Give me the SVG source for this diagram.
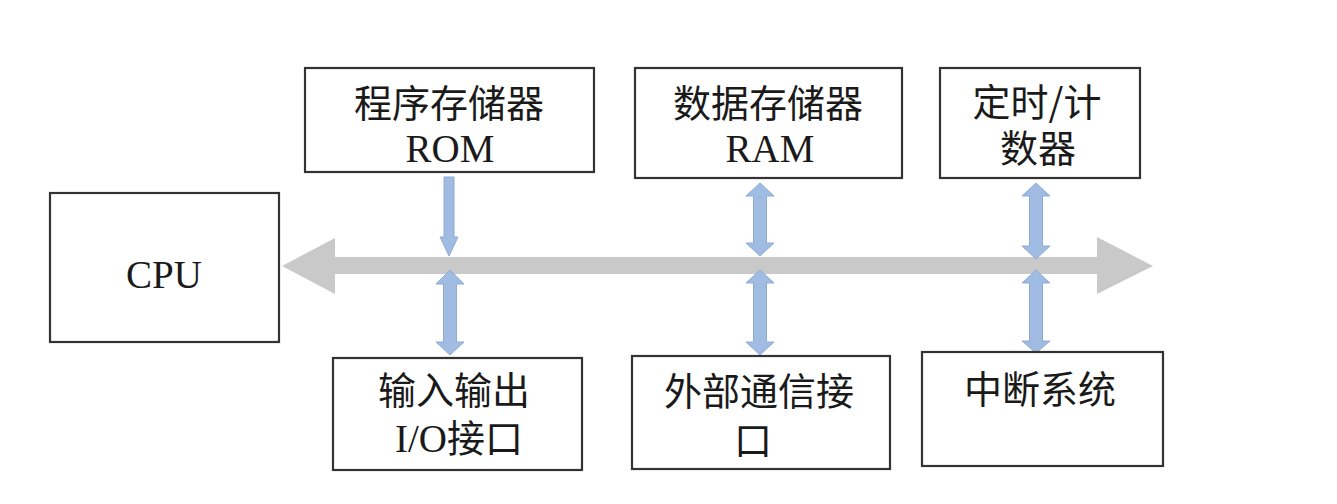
<svg xmlns="http://www.w3.org/2000/svg" width="1337" height="504" viewBox="0 0 1337 504">
<style>
.box{fill:#ffffff;stroke:#333333;stroke-width:2.2}
.zh{font-family:"Noto Sans CJK SC","Noto Sans",sans-serif;font-size:38px;fill:#1a1a1a;text-anchor:middle}
.en{font-family:"Liberation Serif","Noto Sans CJK SC",serif;font-size:39px;fill:#1a1a1a;text-anchor:middle}
.bus{fill:#c9c9c9}
.ba{fill:#a0bce2;stroke:#8fabd6;stroke-width:1}
</style>
<rect width="1337" height="504" fill="#ffffff"/>
<g id="connectors">
<polygon class="bus" points="282,266 335,238 335,257 1097,257 1097,237 1153,266 1097,294 1097,274 335,274 335,294"/>
<polygon class="ba" points="444,177 454,177 454,237 458,237 449,256 440,237 444,237"/>
<polygon class="ba" points="450,270 464,284 456.5,284 456.5,342 464,342 450,355 436,342 443.5,342 443.5,284 436,284"/>
<polygon class="ba" points="760,183 774,196 766.5,196 766.5,243 774,243 760,256 746,243 753.5,243 753.5,196 746,196"/>
<polygon class="ba" points="760,270 774,283 766.5,283 766.5,342 774,342 760,355 746,342 753.5,342 753.5,283 746,283"/>
<polygon class="ba" points="1036,183 1050,196 1042.5,196 1042.5,246 1050,246 1036,259 1022,246 1029.5,246 1029.5,196 1022,196"/>
<polygon class="ba" points="1036,270 1050,283 1042.5,283 1042.5,341 1050,341 1036,353 1022,341 1029.5,341 1029.5,283 1022,283"/>
</g>
<g id="cpu">
<rect class="box" x="50" y="193" width="229" height="149"/>
<text class="en" x="164" y="288">CPU</text>
</g>
<g id="rom">
<rect class="box" x="305" y="68" width="289" height="104"/>
<text class="zh" x="449" y="117">程序存储器</text>
<text class="en" x="450" y="162">ROM</text>
</g>
<g id="ram">
<rect class="box" x="635" y="68" width="267" height="110"/>
<text class="zh" x="768" y="117">数据存储器</text>
<text class="en" x="770" y="162">RAM</text>
</g>
<g id="timer">
<rect class="box" x="940" y="68" width="200" height="110"/>
<text class="zh" x="1037" y="116">定时/计</text>
<text class="zh" x="1038" y="162">数器</text>
</g>
<g id="io">
<rect class="box" x="333" y="358" width="249" height="112"/>
<text class="zh" x="454" y="404">输入输出</text>
<text class="zh" x="459" y="452"><tspan class="en" style="font-family:'Liberation Serif',serif">I/O</tspan>接口</text>
</g>
<g id="comm">
<rect class="box" x="632" y="356" width="258" height="113"/>
<text class="zh" x="759" y="405">外部通信接</text>
<text class="zh" x="753" y="454">口</text>
</g>
<g id="interrupt">
<rect class="box" x="922" y="352" width="241" height="114"/>
<text class="zh" x="1040" y="403">中断系统</text>
</g>
</svg>
